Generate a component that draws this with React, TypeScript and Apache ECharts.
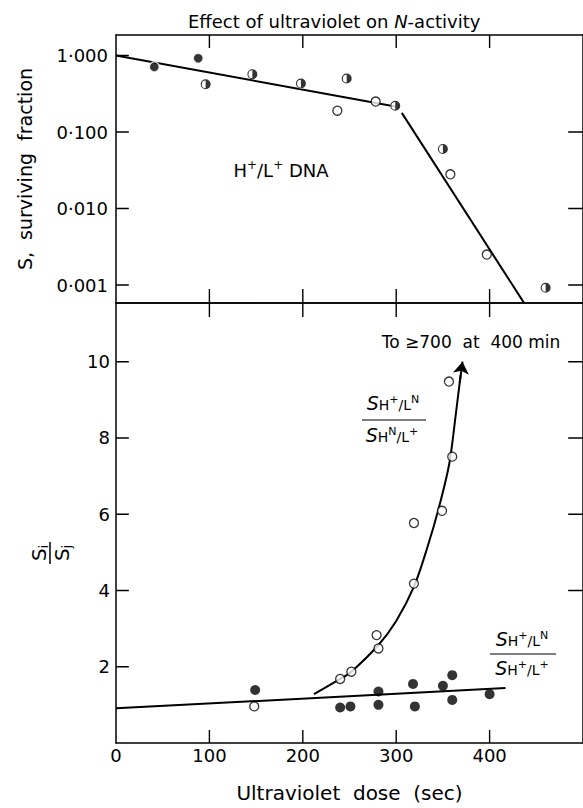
import React, { useEffect, useRef } from "react";
import * as echarts from "echarts";

// ---------- data ----------
// Top panel: surviving fraction S vs ultraviolet dose (sec)
const topFilledX = [41, 88];
const topFilledY = [0.71, 0.92];
const topHalfX = [96, 146, 198, 247, 299, 350, 460];
const topHalfY = [0.42, 0.57, 0.43, 0.5, 0.22, 0.06, 0.00092];
const topOpenX = [237, 278, 358, 397];
const topOpenY = [0.19, 0.25, 0.028, 0.0025];
const fit1X = [0, 299];
const fit1Y = [1.0, 0.215];
const fit2X = [306, 437];
const fit2Y = [0.178, 0.00058];
const topTickExps = [-3, -2, -1, 0];
const topTickLabels = ["0·001", "0·010", "0·100", "1·000"];
const topRightTickExps = [-3, -2, -1];

// Bottom panel: ratio Si/Sj
const openRatioX = [148, 240, 252, 279, 281, 319, 319, 349, 360, 356.5];
const openRatioY = [0.96, 1.68, 1.87, 2.83, 2.48, 5.77, 4.18, 6.09, 7.51, 9.48];
const filledRatioX = [149, 240, 251, 281, 281, 318, 320, 350, 360, 360, 400];
const filledRatioY = [1.39, 0.93, 0.96, 1.35, 1.0, 1.55, 0.96, 1.5, 1.78, 1.13, 1.28];
const flatFitX = [0, 417];
const flatFitY = [0.91, 1.44];
const curveX = [212, 240, 252, 281, 300, 319, 333, 346, 357, 364, 369];
const curveY = [1.28, 1.68, 1.87, 2.57, 3.2, 4.1, 5.1, 6.2, 7.35, 8.66, 9.65];
const arrowFrom = [368, 9.45];
const arrowTo = [371, 10.0];
const bottomTicks = [2, 4, 6, 8, 10];
const bottomRightTicks = [4, 6, 8, 10];
const xTickVals = [100, 200, 300, 400];

const X_MIN = 0;
const X_MAX = 500;
const TOP_MIN = -3.235;
const TOP_MAX = 0.268;
const BOT_MIN = 0;
const BOT_MAX = 11.54;

// layout (pixels)
const GRID_LEFT = 116;
const GRID_W = 473;
const TOP_Y = 35;
const TOP_H = 268;
const BOT_H = 442;

const FONT = '"DejaVu Sans", sans-serif';
const lg = (v: number) => Math.log10(v);
const zip = (xs: number[], ys: number[], f: (v: number) => number = (v) => v) =>
  xs.map((x, i) => [x, f(ys[i])]);

// pixel lengths of tick marks converted to each axis' data units
const xPerPx = (X_MAX - X_MIN) / GRID_W;
const topPerPx = (TOP_MAX - TOP_MIN) / TOP_H;
const botPerPx = (BOT_MAX - BOT_MIN) / BOT_H;

const HALF_PATH =
  "path://M10,0 A10,10 0 0,1 10,20 A10,10 0 0,1 10,0 Z M10,2.2 A7.8,7.8 0 0,0 10,17.8 Z";

const fracRich = () => ({
  s: { fontFamily: FONT, fontSize: 19, fontStyle: "italic", fill: "#000", lineHeight: 18, verticalAlign: "middle" },
  b: { fontFamily: FONT, fontSize: 14, fill: "#000", lineHeight: 18, verticalAlign: "bottom" },
  t: { fontFamily: FONT, fontSize: 11, fill: "#000", lineHeight: 18, verticalAlign: "top" },
});

const axisLine = () => ({ show: true, onZero: false, lineStyle: { color: "#000", width: 1.5 } });

// a line series made of separate short segments (tick marks)
const tickLines = (xi: number, yi: number, segs: number[][][]) => ({
  type: "line",
  xAxisIndex: xi,
  yAxisIndex: yi,
  data: segs.flatMap((s) => [s[0], s[1], ["-", "-"]]),
  connectNulls: false,
  symbol: "none",
  silent: true,
  lineStyle: { color: "#000", width: 1.4 },
  z: 3,
});

export default function App() {
  const ref = useRef<HTMLDivElement>(null);
  useEffect(() => {
    if (!ref.current) return;
    const chart = echarts.init(ref.current, undefined, { renderer: "svg" });
    const lbl = () => ({ color: "#000", fontFamily: FONT, fontSize: 18 });
    const xAx = (grid: number, pos: string, extra: any = {}) => ({
      type: "value",
      gridIndex: grid,
      position: pos,
      min: X_MIN,
      max: X_MAX,
      interval: 100,
      splitLine: { show: false },
      axisLine: axisLine(),
      axisTick: { show: false },
      axisLabel: { show: false },
      ...extra,
    });
    const yAx = (grid: number, pos: string, extra: any = {}) => ({
      type: "value",
      gridIndex: grid,
      position: pos,
      min: grid === 0 ? TOP_MIN : BOT_MIN,
      max: grid === 0 ? TOP_MAX : BOT_MAX,
      ...(grid === 0 ? { minInterval: 1, maxInterval: 1 } : { interval: 2 }),
      splitLine: { show: false },
      axisLine: axisLine(),
      axisTick: { show: false },
      axisLabel: { show: false },
      ...extra,
    });

    const topTickSegs: number[][][] = [
      ...xTickVals.map((v) => [[v, TOP_MAX], [v, TOP_MAX - 13 * topPerPx]]),
      ...xTickVals.map((v) => [[v, TOP_MIN], [v, TOP_MIN + 14 * topPerPx]]),
      ...topTickExps.map((v) => [[X_MIN, v], [X_MIN + 13 * xPerPx, v]]),
      ...topRightTickExps.map((v) => [[X_MAX, v], [X_MAX - 15 * xPerPx, v]]),
    ];
    const botTickSegs: number[][][] = [
      ...xTickVals.map((v) => [[v, BOT_MIN], [v, BOT_MIN + 13 * botPerPx]]),
      ...xTickVals.map((v) => [[v, BOT_MAX], [v, BOT_MAX - 14 * botPerPx]]),
      ...bottomTicks.map((v) => [[X_MIN, v], [X_MIN + 13 * xPerPx, v]]),
      ...bottomRightTicks.map((v) => [[X_MAX, v], [X_MAX - 15 * xPerPx, v]]),
    ];

    const option: any = {
      animation: false,
      title: {
        text: "{a|Effect of ultraviolet on }{b|N}{a|-activity}",
        left: 183,
        top: 7,
        textStyle: {
          rich: {
            a: { fontFamily: FONT, fontSize: 18, fontWeight: "normal", color: "#000" },
            b: { fontFamily: FONT, fontSize: 18, fontWeight: "normal", color: "#000", fontStyle: "italic" },
          },
        },
      },
      grid: [
        { left: GRID_LEFT, width: GRID_W, top: TOP_Y, height: TOP_H },
        { left: GRID_LEFT, width: GRID_W, top: TOP_Y + TOP_H, height: BOT_H },
      ],
      xAxis: [
        xAx(0, "top"),
        xAx(0, "bottom"),
        xAx(1, "top"),
        xAx(1, "bottom", {
          axisLabel: { ...lbl(), margin: 3, showMaxLabel: false },
          name: "Ultraviolet  dose  (sec)",
          nameLocation: "middle",
          nameGap: 40,
          nameTextStyle: { color: "#000", fontFamily: FONT, fontSize: 20 },
        }),
      ],
      yAxis: [
        yAx(0, "left", {
          axisLabel: {
            ...lbl(),
            margin: 8,
            showMinLabel: false,
            showMaxLabel: false,
            formatter: (v: number) => {
              const i = topTickExps.indexOf(Math.round(v));
              return Math.abs(v - Math.round(v)) < 1e-6 && i >= 0 ? topTickLabels[i] : "";
            },
          },
          name: "S,  surviving  fraction",
          nameLocation: "middle",
          nameGap: 82,
          nameTextStyle: { color: "#000", fontFamily: FONT, fontSize: 19 },
        }),
        yAx(0, "right"),
        yAx(1, "left", { axisLabel: { ...lbl(), margin: 6, showMinLabel: false, showMaxLabel: false } }),
        yAx(1, "right"),
      ],
      series: [
        tickLines(1, 0, topTickSegs),
        tickLines(3, 2, botTickSegs),
        {
          type: "line",
          xAxisIndex: 1,
          yAxisIndex: 0,
          data: zip(fit1X, fit1Y, lg),
          symbol: "none",
          lineStyle: { color: "#000", width: 2 },
          z: 2,
        },
        {
          type: "line",
          xAxisIndex: 1,
          yAxisIndex: 0,
          data: zip(fit2X, fit2Y, lg),
          symbol: "none",
          lineStyle: { color: "#000", width: 2 },
          z: 2,
        },
        {
          type: "scatter",
          xAxisIndex: 1,
          yAxisIndex: 0,
          data: zip(topFilledX, topFilledY, lg),
          symbol: "circle",
          symbolSize: 10,
          itemStyle: { color: "#000", borderColor: "#fff", borderWidth: 1.5 },
          z: 5,
        },
        {
          type: "scatter",
          xAxisIndex: 1,
          yAxisIndex: 0,
          data: zip(topOpenX, topOpenY, lg),
          symbol: "circle",
          symbolSize: 9,
          itemStyle: { color: "#fff", borderColor: "#000", borderWidth: 1.3 },
          z: 5,
        },
        {
          type: "scatter",
          xAxisIndex: 1,
          yAxisIndex: 0,
          data: zip(topHalfX, topHalfY, lg),
          symbol: "circle",
          symbolSize: 10,
          itemStyle: { color: "#fff", borderWidth: 0 },
          z: 4,
        },
        {
          type: "scatter",
          xAxisIndex: 1,
          yAxisIndex: 0,
          data: zip(topHalfX, topHalfY, lg),
          symbol: HALF_PATH,
          symbolSize: 10,
          itemStyle: { color: "#000", borderWidth: 0 },
          z: 5,
        },
        {
          type: "line",
          xAxisIndex: 3,
          yAxisIndex: 2,
          data: zip(flatFitX, flatFitY),
          symbol: "none",
          lineStyle: { color: "#000", width: 2 },
          z: 2,
        },
        {
          type: "line",
          xAxisIndex: 3,
          yAxisIndex: 2,
          data: zip(curveX, curveY),
          symbol: "none",
          smooth: 0.3,
          lineStyle: { color: "#000", width: 2 },
          z: 2,
          markLine: {
            silent: true,
            symbol: ["none", "arrow"],
            symbolSize: 12,
            label: { show: false },
            lineStyle: { color: "#000", width: 2, type: "solid" },
            itemStyle: { color: "#000" },
            data: [[{ coord: arrowFrom }, { coord: arrowTo }]],
          },
        },
        {
          type: "scatter",
          xAxisIndex: 3,
          yAxisIndex: 2,
          data: zip(openRatioX, openRatioY),
          symbol: "circle",
          symbolSize: 9,
          itemStyle: { color: "#fff", borderColor: "#000", borderWidth: 1.3 },
          z: 5,
        },
        {
          type: "scatter",
          xAxisIndex: 3,
          yAxisIndex: 2,
          data: zip(filledRatioX, filledRatioY),
          symbol: "circle",
          symbolSize: 10,
          itemStyle: { color: "#000" },
          z: 5,
        },
      ],
      graphic: [
        {
          type: "text",
          x: 281,
          y: 169,
          style: {
            text: "{n|H}{p|+}{n|/L}{p|+}{n| DNA}",
            align: "center",
            verticalAlign: "middle",
            rich: {
              n: { fontFamily: FONT, fontSize: 18, fill: "#000", lineHeight: 20, verticalAlign: "bottom" },
              p: { fontFamily: FONT, fontSize: 12, fill: "#000", lineHeight: 20, verticalAlign: "top" },
            },
          },
        },
        {
          type: "text",
          x: 471,
          y: 342,
          style: {
            text: "To ≥700  at  400 min",
            align: "center",
            verticalAlign: "middle",
            fontFamily: FONT,
            fontSize: 17,
            fill: "#000",
          },
        },
        {
          type: "text",
          x: 393,
          y: 403,
          style: { text: "{s|S}{b|H}{t|+}{b|/L}{t|N}", align: "center", verticalAlign: "middle", rich: fracRich() },
        },
        { type: "line", shape: { x1: 362, y1: 420, x2: 426, y2: 420 }, style: { stroke: "#000", lineWidth: 1.2 } },
        {
          type: "text",
          x: 392,
          y: 435,
          style: { text: "{s|S}{b|H}{t|N}{b|/L}{t|+}", align: "center", verticalAlign: "middle", rich: fracRich() },
        },
        {
          type: "text",
          x: 522,
          y: 639,
          style: { text: "{s|S}{b|H}{t|+}{b|/L}{t|N}", align: "center", verticalAlign: "middle", rich: fracRich() },
        },
        { type: "line", shape: { x1: 490, y1: 654, x2: 556, y2: 654 }, style: { stroke: "#000", lineWidth: 1.2 } },
        {
          type: "text",
          x: 522,
          y: 668,
          style: { text: "{s|S}{b|H}{t|+}{b|/L}{t|+}", align: "center", verticalAlign: "middle", rich: fracRich() },
        },
        {
          type: "group",
          x: 50,
          y: 553,
          rotation: Math.PI / 2,
          children: [
            {
              type: "text",
              x: 0,
              y: -11,
              style: {
                text: "{s|S}{b|i}",
                align: "center",
                verticalAlign: "middle",
                rich: {
                  s: { fontFamily: FONT, fontSize: 20, fill: "#000", lineHeight: 22, verticalAlign: "middle" },
                  b: { fontFamily: FONT, fontSize: 12, fill: "#000", lineHeight: 22, verticalAlign: "bottom" },
                },
              },
            },
            { type: "line", shape: { x1: -11, y1: 0, x2: 11, y2: 0 }, style: { stroke: "#000", lineWidth: 1.5 } },
            {
              type: "text",
              x: 0,
              y: 12,
              style: {
                text: "{s|S}{b|j}",
                align: "center",
                verticalAlign: "middle",
                rich: {
                  s: { fontFamily: FONT, fontSize: 20, fill: "#000", lineHeight: 22, verticalAlign: "middle" },
                  b: { fontFamily: FONT, fontSize: 12, fill: "#000", lineHeight: 22, verticalAlign: "bottom" },
                },
              },
            },
          ],
        },
      ],
    };
    chart.setOption(option);
    return () => chart.dispose();
  }, []);
  return (
    <div
      ref={ref}
      style={{ position: "fixed", left: 0, top: 0, width: 583, height: 808, background: "#fff" }}
    />
  );
}
